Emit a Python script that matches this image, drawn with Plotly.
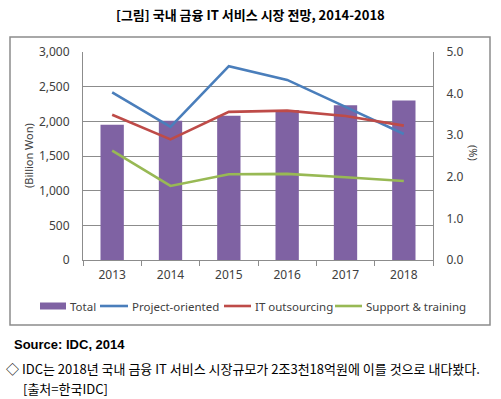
import plotly.graph_objects as go

years = ["2013", "2014", "2015", "2016", "2017", "2018"]
total = [1950, 2010, 2082, 2163, 2231, 2302]
project_oriented = [4.03, 3.20, 4.66, 4.33, 3.68, 3.03]
it_outsourcing = [3.49, 2.90, 3.56, 3.59, 3.46, 3.23]
support_training = [2.63, 1.78, 2.06, 2.07, 1.99, 1.90]

series_names = ["Total", "Project-oriented", "IT outsourcing", "Support & training"]
series_colors = ["#7F62A3", "#4A7EBB", "#BE4B48", "#98B954"]

left_ticks = [0, 500, 1000, 1500, 2000, 2500, 3000]
right_ticks = [0, 1, 2, 3, 4, 5]

FONT = "Noto Sans, Noto Sans CJK KR, sans-serif"
KFONT = "Noto Sans CJK KR, sans-serif"
TXT = "#404040"

# plot area in pixels
PL, PR, PT, PB = 83, 433, 52, 260
W, H = 501, 399


def px(x):
    return (x - PL) / (PR - PL)


def py(y):
    return (PB - y) / (PB - PT)


fig = go.Figure()
fig.add_trace(go.Bar(x=years, y=total, name=series_names[0],
                     marker=dict(color=series_colors[0], line=dict(width=0)),
                     width=0.4, yaxis="y"))
for name, vals, col in zip(series_names[1:], [project_oriented, it_outsourcing, support_training],
                           series_colors[1:]):
    fig.add_trace(go.Scatter(x=years, y=vals, name=name, mode="lines",
                             line=dict(color=col, width=2.6), yaxis="y2"))

fig.update_layout(
    width=W, height=H,
    margin=dict(l=PL, r=W - PR, t=PT, b=H - PB, autoexpand=False),
    paper_bgcolor="white", plot_bgcolor="white",
    font=dict(family=FONT, size=12, color=TXT),
    showlegend=False,
    xaxis=dict(type="category", showline=True, linecolor="#8C8C8C", linewidth=1,
               ticks="outside", tickson="boundaries", ticklen=5, tickcolor="#8C8C8C",
               showgrid=False, ticklabelstandoff=4, tickfont=dict(size=12, color=TXT)),
    yaxis=dict(range=[0, 3000], tickvals=left_ticks, tickformat=",", showgrid=True,
               gridcolor="#8C8C8C", gridwidth=1, showline=True, linecolor="#8C8C8C",
               ticks="", zeroline=False, ticklabelstandoff=10,
               tickfont=dict(size=12, color=TXT)),
    yaxis2=dict(range=[0, 5], tickvals=right_ticks, tickformat=".1f", overlaying="y", side="right",
                showgrid=False, showline=True, linecolor="#8C8C8C", ticks="", zeroline=False,
                ticklabelstandoff=10, tickfont=dict(size=12, color=TXT)),
)

# outer box
fig.add_shape(type="rect", xref="paper", yref="paper",
              x0=px(10), x1=px(490), y0=py(325), y1=py(37),
              line=dict(color="#8C8C8C", width=1.5), fillcolor="rgba(0,0,0,0)", layer="below")

# axis titles
fig.add_annotation(text="(Billion Won)", xref="paper", yref="paper", x=px(28), y=py(156),
                   xanchor="center", yanchor="middle",
                   showarrow=False, textangle=-90, font=dict(size=11, color=TXT))
fig.add_annotation(text="(%)", xref="paper", yref="paper", x=px(474), y=py(153),
                   xanchor="center", yanchor="middle",
                   showarrow=False, textangle=90, font=dict(size=11, color=TXT))

# manual legend
leg_y = 306
key_x = [(40, 66), (100, 128), (224, 251), (335, 362)]
for i, (name, col, (x0, x1)) in enumerate(zip(series_names, series_colors, key_x)):
    if i == 0:
        fig.add_shape(type="rect", xref="paper", yref="paper", x0=px(x0), x1=px(x1),
                      y0=py(leg_y + 3.5), y1=py(leg_y - 3.5), fillcolor=col, line=dict(width=0))
    else:
        fig.add_shape(type="line", xref="paper", yref="paper", x0=px(x0), x1=px(x1),
                      y0=py(leg_y), y1=py(leg_y), line=dict(color=col, width=2.6))
    fig.add_annotation(text=name, xref="paper", yref="paper", x=px(x1 + 2), y=py(leg_y),
                       showarrow=False, xanchor="left", yanchor="middle",
                       font=dict(size=11.5, color=TXT))

fig.add_annotation(text="<b>[그림] 국내 금융 IT 서비스 시장 전망, 2014-2018</b>", xref="paper", yref="paper",
                   x=px(250), y=py(15), showarrow=False, xanchor="center", yanchor="middle",
                   font=dict(family=KFONT, size=13, color="#000000"))

fig.add_annotation(text="<b>Source: IDC, 2014</b>", xref="paper", yref="paper",
                   x=px(12), y=py(344), showarrow=False, xanchor="left", yanchor="middle",
                   font=dict(family="Liberation Sans, Arial, sans-serif", size=13, color="#000000"))

fig.add_annotation(text="◇ IDC는 2018년 국내 금융 IT 서비스 시장규모가 2조3천18억원에 이를 것으로 내다봤다.",
                   xref="paper", yref="paper", x=px(4), y=py(368), showarrow=False,
                   xanchor="left", yanchor="middle", font=dict(family=KFONT, size=13, color="#000000"))
fig.add_annotation(text="[출처=한국IDC]", xref="paper", yref="paper", x=px(21), y=py(388),
                   showarrow=False, xanchor="left", yanchor="middle",
                   font=dict(family=KFONT, size=13, color="#000000"))

fig.write_html("out.html", config={"displayModeBar": False},
               post_script="document.body.style.margin='0';document.body.style.padding='0';")
